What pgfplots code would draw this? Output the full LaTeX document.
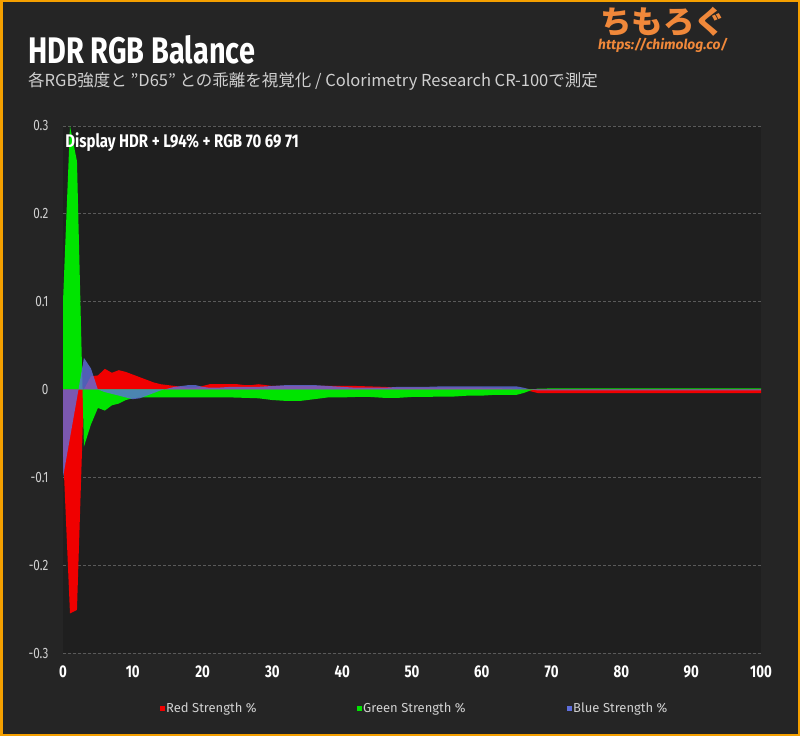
\documentclass[border=0pt]{standalone}
\usepackage{fontspec}
\usepackage{pgfplots}
\pgfplotsset{compat=1.18}
\usepackage{pgfplotstable}
\setmainfont{Fira Sans}
\newfontfamily\cond[FakeStretch=0.82]{Fira Sans}
\newfontfamily\condt[FakeStretch=0.78]{Fira Sans}
\newfontfamily\jp{Noto Sans CJK JP}
\definecolor{bgout}{HTML}{252525}
\definecolor{bgin}{HTML}{1F1F1F}
\definecolor{frame}{HTML}{F5A000}
\definecolor{rfill}{HTML}{F00000}
\definecolor{gfill}{HTML}{00E400}
\definecolor{bfill}{HTML}{5E6EDC}
\definecolor{gridc}{HTML}{5A5A5A}
\definecolor{tickc}{HTML}{D0D0D0}
\definecolor{logo}{HTML}{F0883A}

\pgfplotstableread{
x y
0 0
0 -0.07
1 -0.255
2 -0.251
3 0.0
4 0.015
5 0.016
6 0.0235
7 0.019
8 0.022
9 0.020
10 0.017
11 0.014
12 0.011
13 0.008
14 0.006
15 0.005
16 0.004
17 0.003
18 0.002
19 0.002
20 0.004
21 0.006
22 0.006
23 0.006
24 0.006
25 0.006
26 0.005
27 0.005
28 0.006
29 0.005
30 0.004
32 0.004
34 0.004
36 0.004
38 0.004
40 0.004
42 0.004
44 0.0035
46 0.003
48 0.002
50 0.002
55 0.002
60 0.002
65 0.001
67 -0.002
68 -0.004
70 -0.004
75 -0.004
80 -0.004
85 -0.004
90 -0.004
95 -0.004
100 -0.004
100 0
}\red

\pgfplotstableread{
x y
0 0
0 0.10
1 0.30
2 0.26
3 -0.065
4 -0.04
5 -0.021
6 -0.024
7 -0.018
8 -0.016
9 -0.012
10 -0.010
11 -0.009
13 -0.009
15 -0.009
17 -0.009
20 -0.009
22 -0.009
24 -0.009
26 -0.0095
28 -0.010
30 -0.012
32 -0.013
34 -0.013
36 -0.011
38 -0.009
40 -0.009
42 -0.0085
44 -0.0085
46 -0.0095
48 -0.0095
50 -0.0085
52 -0.0085
54 -0.008
56 -0.008
58 -0.007
60 -0.007
62 -0.006
64 -0.006
65 -0.006
66 -0.004
67 -0.001
68 0.001
70 0.0012
100 0.0012
100 0
}\green

\pgfplotstableread{
x y
0 0
0 -0.10
1 -0.055
2 -0.01
3 0.036
4 0.024
5 0.0
6 -0.003
7 -0.005
8 -0.007
9 -0.009
10 -0.011
11 -0.010
12 -0.007
13 -0.004
14 -0.001
15 0.001
16 0.003
17 0.004
18 0.005
19 0.005
20 0.003
21 0.002
22 0.002
24 0.003
26 0.003
28 0.003
30 0.004
32 0.005
34 0.005
36 0.005
38 0.004
40 0.003
42 0.002
44 0.002
46 0.002
48 0.003
50 0.003
52 0.003
54 0.0035
56 0.0035
58 0.0035
60 0.0035
62 0.0035
64 0.0035
65 0.0035
66 0.002
67 0.0
68 -0.001
100 -0.001
100 0
}\blue

\begin{document}
\begin{tikzpicture}
\fill[bgout] (0pt,0pt) rectangle (800pt,736pt);
\draw[frame, line width=2.5pt] (1.25pt,1.25pt) rectangle (798.75pt,734.75pt);

\begin{axis}[
  at={(63pt,83pt)}, anchor=south west,
  scale only axis, width=698pt, height=527pt,
  xmin=0, xmax=100, ymin=-0.3, ymax=0.3,
  axis background/.style={fill=bgin},
  axis line style={draw=none},
  tick style={draw=none},
  xtick={0,10,...,100},
  ytick={-0.3,-0.2,-0.1,0,0.1,0.2,0.3},
  yticklabels={-0.3,-0.2,-0.1,0,0.1,0.2,0.3},
  ymajorgrids,
  grid style={gridc, dash pattern=on 3pt off 2pt, line width=0.7pt},
  xticklabel style={font=\condt\bfseries\fontsize{17}{17}\selectfont, text=white, yshift=-9pt},
  yticklabel style={font=\condt\fontsize{15}{15}\selectfont, text=tickc, xshift=-11pt},
  /pgf/number format/assume math mode=true,
  clip=true,
]
\draw[gray, line width=0.8pt] (axis cs:0,0) -- (axis cs:100,0);
\addplot[draw=none, fill=rfill] table[x=x,y=y] {\red} -- cycle;
\addplot[draw=none, fill=gfill] table[x=x,y=y] {\green} -- cycle;
\addplot[draw=none, fill=bfill, fill opacity=0.8] table[x=x,y=y] {\blue} -- cycle;
\node[anchor=west, font=\cond\bfseries\fontsize{18.3}{18.3}\selectfont, text=white, inner sep=0pt] at (axis cs:0.3,0.282) {Display HDR + L94\% + RGB 70 69 71};
\end{axis}

% title
\node[anchor=base west, inner sep=0pt, text=white, font=\condt\bfseries\fontsize{37}{37}\selectfont] at (28pt,672.5pt) {HDR RGB Balance};
\node[anchor=base west, inner sep=0pt, text=tickc, font=\jp\fontsize{16.5}{16.5}\selectfont] at (28pt,649pt) {各RGB強度と ”D65” との乖離を視覚化 / Colorimetry Research CR-100で測定};

% logo
\node[anchor=base west, inner sep=0pt, text=logo, font=\jp\bfseries\fontsize{31.5}{31.5}\selectfont] at (600pt,702pt) {ちもろぐ};
\node[anchor=base west, inner sep=0pt, text=logo, font=\bfseries\itshape\fontsize{13.8}{13.8}\selectfont] at (598pt,686pt) {https://chimolog.co/};

% legend
\fill[rfill] (160pt,25pt) rectangle (165pt,30pt);
\node[anchor=base west, inner sep=0pt, text=tickc, font=\fontsize{13}{13}\selectfont] at (166pt,23.5pt) {Red Strength \%};
\fill[gfill] (357pt,25pt) rectangle (362pt,30pt);
\node[anchor=base west, inner sep=0pt, text=tickc, font=\fontsize{13}{13}\selectfont] at (363pt,23.5pt) {Green Strength \%};
\fill[bfill] (567pt,25pt) rectangle (572pt,30pt);
\node[anchor=base west, inner sep=0pt, text=tickc, font=\fontsize{13}{13}\selectfont] at (573pt,23.5pt) {Blue Strength \%};
\end{tikzpicture}
\end{document}
